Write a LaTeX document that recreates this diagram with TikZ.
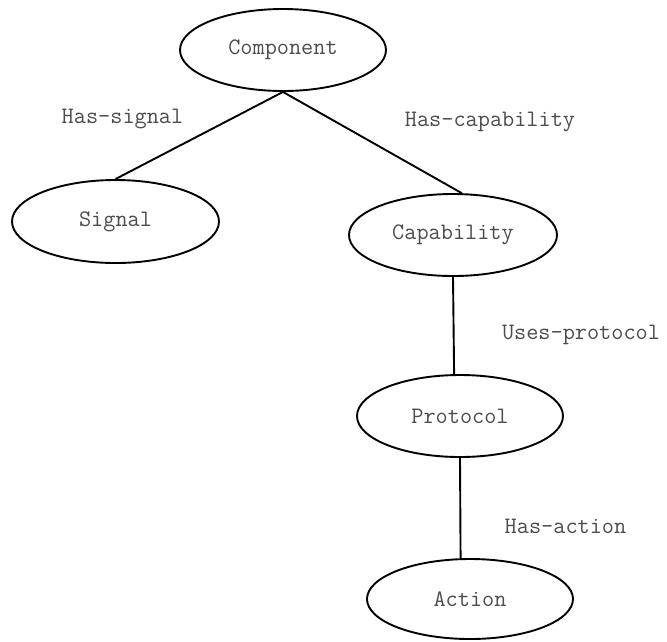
\documentclass[tikz,border=0pt]{standalone}
\usepackage{fontspec}
\usetikzlibrary{shapes.geometric}
\begin{document}
\begin{tikzpicture}[x=1pt,y=-1pt,
  concept/.style={draw=black, line width=1.9pt, ellipse, inner sep=0pt,
    minimum width=206pt, minimum height=82pt,
    font=\ttfamily\fontsize{23.6}{28}\selectfont, text=black!70},
  rel/.style={font=\ttfamily\fontsize{23.6}{28}\selectfont, text=black!70, inner sep=0pt},
  link/.style={draw=black, line width=1.9pt}]
\useasboundingbox (0,0) rectangle (667,641);

% concepts
\node[concept] (comp) at (283,50) {Component};
\node[concept, minimum width=207pt, minimum height=83pt] (sig) at (115.5,221.5) {Signal};
\node[concept, minimum width=208pt] (cap) at (453,235) {Capability};
\node[concept] (prot) at (460,416) {Protocol};
\node[concept, minimum height=80pt] (act) at (470,599) {Action};

% relations
\draw[link] (comp.south) -- (sig.north);
\draw[link] (comp.south) -- (cap.78);
\draw[link] (cap.south) -- (prot.98);
\draw[link] (prot.south) -- (act.103);

% relation names
\node[rel] (lsig) at (122.5,119) {Has-signal};
\node[rel] (lcap) at (490,122) {Has-capability};
\node[rel] (lprot) at (581,335) {Uses-protocol};
\node[rel] (lact) at (565.5,526) {Has-action};
\end{tikzpicture}
\end{document}
